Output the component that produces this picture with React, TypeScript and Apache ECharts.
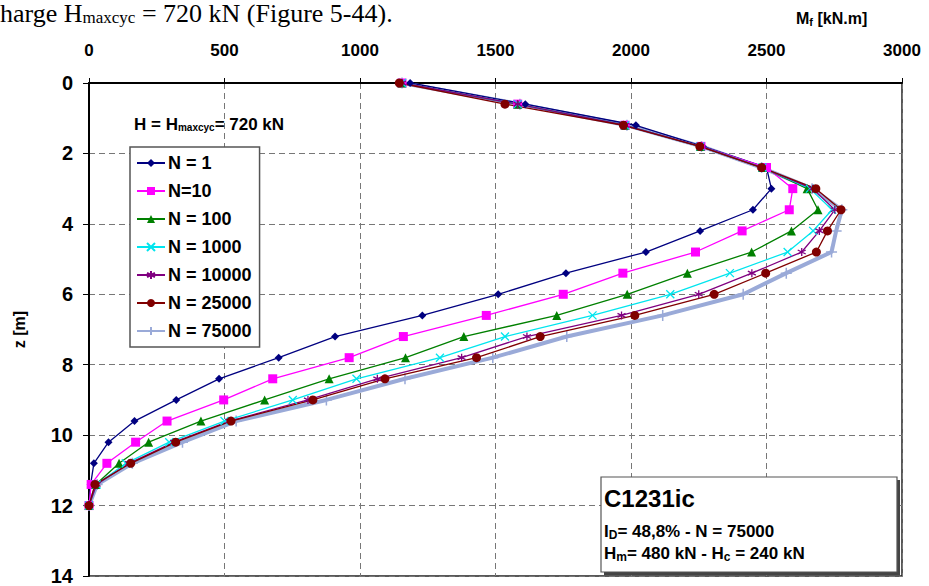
import React, { useEffect, useRef } from "react";
import * as echarts from "echarts";

const depths = [0, 0.6, 1.2, 1.8, 2.4, 3.0, 3.6, 4.2, 4.8, 5.4, 6.0, 6.6, 7.2, 7.8, 8.4, 9.0, 9.6, 10.2, 10.8, 11.4, 12.0];

const seriesNames = ["N = 1", "N=10", "N = 100", "N = 1000", "N = 10000", "N = 25000", "N = 75000"];

const mN1 = [1185, 1610, 2018, 2265, 2500, 2518, 2450, 2255, 2055, 1760, 1510, 1230, 908, 700, 480, 322, 168, 72, 18, 6, 0];
const mN10 = [1155, 1582, 1978, 2258, 2500, 2597, 2584, 2410, 2238, 1970, 1750, 1466, 1160, 960, 678, 497, 288, 172, 66, 8, 0];
const mN100 = [1155, 1582, 1978, 2256, 2485, 2650, 2690, 2592, 2445, 2208, 1986, 1726, 1383, 1168, 886, 648, 413, 220, 111, 25, 0];
const mN1000 = [1155, 1582, 1978, 2256, 2485, 2660, 2742, 2672, 2578, 2365, 2145, 1858, 1535, 1295, 987, 752, 500, 296, 136, 28, 0];
const mN10000 = [1155, 1582, 1978, 2256, 2482, 2670, 2752, 2695, 2630, 2446, 2250, 1965, 1616, 1375, 1064, 808, 518, 314, 148, 28, 0];
const mN25000 = [1145, 1535, 1972, 2254, 2482, 2682, 2775, 2725, 2684, 2497, 2307, 2014, 1665, 1430, 1092, 826, 524, 320, 154, 22, 0];
const mN75000 = [1155, 1590, 1985, 2260, 2482, 2668, 2778, 2757, 2740, 2573, 2414, 2117, 1763, 1490, 1166, 876, 543, 345, 160, 30, 0];

const seriesValues = [mN1, mN10, mN100, mN1000, mN10000, mN25000, mN75000];

const xTicks = { min: 0, max: 3000, interval: 500 };
const yTicks = { min: 0, max: 14, interval: 2 };

const colors = ["#000080", "#ff00ff", "#008000", "#00e5ee", "#800080", "#800000", "#9aaad8"];
const CROSS = "path://M0,0L10,10M0,10L10,0";
const STAR = "path://M5,0L5,10M0,2.5L10,7.5M0,7.5L10,2.5";
const PLUS = "path://M5,0L5,10M0,5L10,5";
const symbols = ["diamond", "rect", "triangle", CROSS, STAR, "circle", PLUS];
const symbolSizes = [8, 9, 9, 8, 8, 9, 11];
const lineWidths = [1.3, 1.3, 1.3, 1.3, 1.3, 1.3, 4];

const FONT = "Arial, 'Liberation Sans', sans-serif";

export default function App() {
  const ref = useRef<HTMLDivElement>(null);
  useEffect(() => {
    if (!ref.current) return;
    const chart = echarts.init(ref.current, null, { renderer: "svg" });
    const series = seriesNames.map((name, k) => {
      const stroked = k === 3 || k === 4 || k === 6;
      return {
        name,
        type: "line",
        z: k === 6 ? 1 : 3,
        data: depths.map((z, i) => [seriesValues[k][i], z]),
        symbol: symbols[k],
        symbolSize: symbolSizes[k],
        showSymbol: true,
        lineStyle: { color: colors[k], width: lineWidths[k] },
        itemStyle: stroked
          ? { color: colors[k], borderColor: colors[k], borderWidth: k === 6 ? 1.5 : 1.3 }
          : { color: colors[k], borderWidth: 0 },
        emphasis: { disabled: true },
      };
    });
    chart.setOption({
      animation: false,
      backgroundColor: "#fff",
      grid: { left: 89, right: 27, top: 83, bottom: 8, show: true, borderColor: "#222", borderWidth: 1.5, backgroundColor: "transparent" },
      legend: {
        orient: "vertical",
        left: 130,
        top: 147,
        data: seriesNames,
        backgroundColor: "#fff",
        borderColor: "#555",
        borderWidth: 1.5,
        padding: [7, 8, 7, 6],
        itemGap: 10,
        itemWidth: 28,
        itemHeight: 10,
        selectedMode: false,
        textStyle: { fontFamily: FONT, fontSize: 18, fontWeight: "bold", color: "#000", padding: [0, 0, 0, -2] },
      },
      xAxis: {
        type: "value",
        position: "top",
        min: xTicks.min,
        max: xTicks.max,
        interval: xTicks.interval,
        axisLine: { show: true, lineStyle: { color: "#000", width: 2 } },
        axisTick: { show: true, length: 5, lineStyle: { color: "#000" } },
        axisLabel: { fontFamily: FONT, fontSize: 17, fontWeight: "bold", color: "#000", margin: 24, formatter: (v: number) => String(v) },
        splitLine: { show: true, lineStyle: { type: [6, 4], color: "#777", width: 1 } },
      },
      yAxis: {
        type: "value",
        inverse: true,
        min: yTicks.min,
        max: yTicks.max,
        interval: yTicks.interval,
        name: "z [m]",
        nameLocation: "middle",
        nameGap: 62,
        nameTextStyle: { fontFamily: FONT, fontSize: 16, fontWeight: "bold", color: "#000" },
        axisLine: { show: true, lineStyle: { color: "#000", width: 2 } },
        axisTick: { show: true, length: 6, lineStyle: { color: "#000" } },
        axisLabel: { fontFamily: FONT, fontSize: 20, fontWeight: "bold", color: "#000", margin: 16, formatter: (v: number) => String(v) },
        splitLine: { show: true, lineStyle: { type: [6, 4], color: "#777", width: 1 } },
      },
      series,
      graphic: [
        {
          type: "text",
          left: 0,
          top: 0,
          z: 10,
          style: {
            text: "{a|harge H}{s|maxcyc}{a| = 720 kN (Figure 5-44).}",
            rich: {
              a: { fontFamily: "'Liberation Serif', serif", fontSize: 26, color: "#000", lineHeight: 26 },
              s: { fontFamily: "'Liberation Serif', serif", fontSize: 17, color: "#000", lineHeight: 26, padding: [9, 0, 0, 0] },
            },
          },
        },
        {
          type: "text",
          left: 796,
          top: 10,
          z: 10,
          style: {
            text: "{a|M}{s|f}{a| [kN.m]}",
            rich: {
              a: { fontFamily: FONT, fontSize: 16, fontWeight: "bold", color: "#000", lineHeight: 18 },
              s: { fontFamily: FONT, fontSize: 11, fontWeight: "bold", color: "#000", lineHeight: 18, padding: [6, 0, 0, 0] },
            },
          },
        },
        {
          type: "text",
          left: 134,
          top: 116,
          z: 10,
          style: {
            text: "{a|H = H}{s|maxcyc}{a|= 720 kN}",
            rich: {
              a: { fontFamily: FONT, fontSize: 17, fontWeight: "bold", color: "#000", lineHeight: 20 },
              s: { fontFamily: FONT, fontSize: 10, fontWeight: "bold", color: "#000", lineHeight: 20, padding: [6, 0, 0, 0] },
            },
          },
        },
        {
          type: "rect",
          shape: { x: 604, y: 480, width: 296, height: 95 },
          z: 9,
          style: { fill: "#444", stroke: "none" },
        },
        {
          type: "rect",
          shape: { x: 601, y: 477, width: 296, height: 95 },
          z: 10,
          style: { fill: "#fff", stroke: "#555", lineWidth: 1.2 },
        },
        {
          type: "text",
          left: 604,
          top: 486,
          z: 11,
          style: { text: "C1231ic", fontFamily: FONT, fontSize: 24, fontWeight: "bold", fill: "#000" },
        },
        {
          type: "text",
          left: 604,
          top: 521,
          z: 11,
          style: {
            text: "{a|I}{s|D}{a|= 48,8% - N = 75000}",
            rich: {
              a: { fontFamily: FONT, fontSize: 17, fontWeight: "bold", color: "#000", lineHeight: 20 },
              s: { fontFamily: FONT, fontSize: 12, fontWeight: "bold", color: "#000", lineHeight: 20, padding: [8, 0, 0, 0] },
            },
          },
        },
        {
          type: "text",
          left: 604,
          top: 543,
          z: 11,
          style: {
            text: "{a|H}{s|m}{a|= 480 kN - H}{s|c}{a| = 240 kN}",
            rich: {
              a: { fontFamily: FONT, fontSize: 17, fontWeight: "bold", color: "#000", lineHeight: 20 },
              s: { fontFamily: FONT, fontSize: 12, fontWeight: "bold", color: "#000", lineHeight: 20, padding: [8, 0, 0, 0] },
            },
          },
        },
      ],
    });
    return () => chart.dispose();
  }, []);
  return <div ref={ref} style={{ width: 929, height: 586, position: "fixed", left: 0, top: 0 }} />;
}
